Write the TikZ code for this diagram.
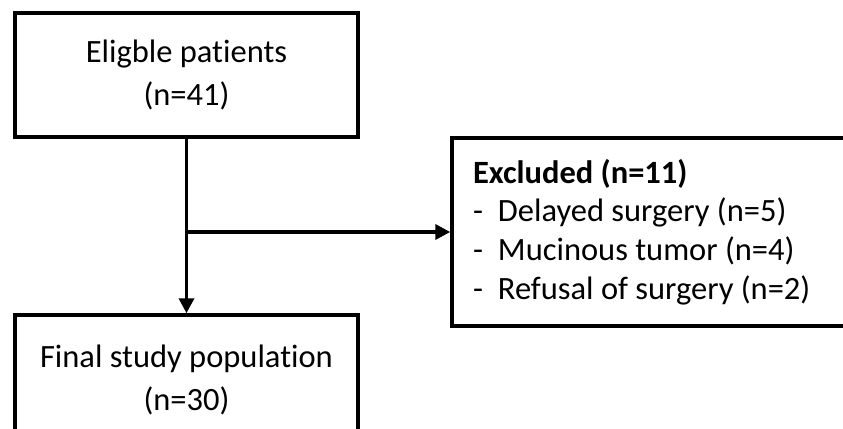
\documentclass[tikz,border=0pt]{standalone}
\usepackage{fontspec}
\setmainfont[Ligatures={NoCommon}]{Carlito}
\usetikzlibrary{arrows.meta,positioning}
\newcommand\itm{-\hspace{0.3cm}}
\tikzset{bx/.style={draw,line width=2pt,rectangle,align=center,inner sep=0pt,font=\fontsize{18.5}{24.5}\selectfont},arr/.style={line width=2pt,-{Triangle[length=0.3cm,width=0.3cm]}}}

\begin{document}
\begin{tikzpicture}[x=0.02cm,y=-0.02cm]
\useasboundingbox[fill=white](0,0)rectangle(843,429);
\node[bx,minimum width=6.86cm,minimum height=2.48cm](elig)at(186.5,75){Eligble patients\\(n=41)};
\node[bx,minimum width=6.86cm,minimum height=2.6cm](final)at(186.5,380){Final study population\\(n=30)};
\node[bx,align=left,inner xsep=0.42cm,text width=7.08cm,minimum height=3.76cm,font=\fontsize{18.5}{22}\selectfont](excl)at(650,232){\spaceskip=0pt\xspaceskip=0pt\textbf{Excluded (n=11)}\\\itm Delayed surgery (n=5)\\\itm Mucinous tumor (n=4)\\\itm Refusal of surgery (n=2)};
\coordinate(j)at(elig.south|-excl.west);
\draw[arr](elig)--(final);\draw[arr](j)--(excl);
\end{tikzpicture}
\end{document}
